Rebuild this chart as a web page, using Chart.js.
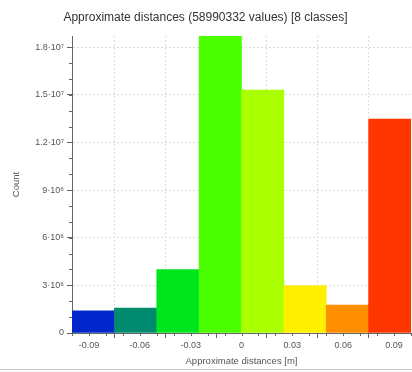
<!DOCTYPE html>
<html lang="en">
<head>
    <meta charset="UTF-8" />
    <title>Approximate distances histogram</title>
    <script src="https://cdn.jsdelivr.net/npm/chart.js"></script>
    <style>
        html, body {
            margin: 0;
            padding: 0;
            background: #fff;
        }
        .wrap {
            position: relative;
            width: 412px;
            height: 372px;
        }
        .bottom-rule {
            position: absolute;
            left: 0;
            top: 369px;
            width: 412px;
            height: 1px;
            background: #c8c8c8;
        }
    </style>
</head>
<body>
    <div class="wrap">
        <canvas id="histChart" width="412" height="372"></canvas>
        <div class="bottom-rule"></div>
    </div>

    <script>
        // Class centres (m) and counts
        const binCenters = [-0.0875, -0.0625, -0.0375, -0.0125, 0.0125, 0.0375, 0.0625, 0.0875];
        const counts = [1.40e6, 1.57e6, 4.0e6, 18.7e6, 15.3e6, 2.98e6, 1.76e6, 13.47e6];
        const barColors = ['#0026cc', '#008a6e', '#00e61e', '#4cff00', '#aaff00', '#fff000', '#ff8f00', '#ff3600'];

        // Axis ticks
        const xTicks = [-0.09, -0.06, -0.03, 0, 0.03, 0.06, 0.09];
        const xTickLabels = ['-0.09', '-0.06', '-0.03', '0', '0.03', '0.06', '0.09'];
        const yTicks = [0, 3e6, 6e6, 9e6, 12e6, 15e6, 18e6];
        const yTickLabels = ['0', '3·10⁶', '6·10⁶', '9·10⁶', '1.2·10⁷', '1.5·10⁷', '1.8·10⁷'];

        const xMin = -0.1, xMax = 0.1, yMax = 18.7e6;
        const tickFont = { family: 'Liberation Sans', size: 9 };

        // small minor tick marks along both axes
        const minorTicks = {
            id: 'minorTicks',
            afterDraw(chart) {
                const ctx = chart.ctx;
                const xs = chart.scales.x, ys = chart.scales.y;
                ctx.save();
                ctx.strokeStyle = '#666';
                ctx.lineWidth = 1;
                ctx.beginPath();
                for (let i = -10; i <= 10; i++) {
                    const px = Math.round(xs.getPixelForValue(i / 100)) + 0.5;
                    ctx.moveTo(px, ys.bottom);
                    ctx.lineTo(px, ys.bottom + 3);
                }
                for (let i = 1; i <= 18; i++) {
                    const py = Math.round(ys.getPixelForValue(i * 1e6)) + 0.5;
                    ctx.moveTo(xs.left - 3, py);
                    ctx.lineTo(xs.left, py);
                }
                ctx.stroke();
                ctx.restore();
            }
        };

        const ctx = document.getElementById('histChart').getContext('2d');
        new Chart(ctx, {
            type: 'bar',
            data: {
                datasets: [{
                    data: binCenters.map((c, i) => ({ x: c, y: counts[i] })),
                    backgroundColor: barColors,
                    borderWidth: 0,
                    barPercentage: 1,
                    categoryPercentage: 1
                }]
            },
            options: {
                responsive: false,
                animation: false,
                layout: { padding: { left: 0, right: 1, top: 0, bottom: 3 } },
                plugins: {
                    legend: { display: false },
                    tooltip: { enabled: false },
                    title: {
                        display: true,
                        text: 'Approximate distances (58990332 values) [8 classes]',
                        color: '#333',
                        font: { family: 'Liberation Sans', size: 12, weight: 'normal' },
                        padding: { top: 10, bottom: 11.6 }
                    }
                },
                scales: {
                    x: {
                        type: 'linear',
                        min: xMin,
                        max: xMax,
                        offset: false,
                        afterBuildTicks: axis => { axis.ticks = xTicks.map(v => ({ value: v })); },
                        afterFit: axis => { axis.height = 36; },
                        ticks: {
                            color: '#555',
                            font: tickFont,
                            padding: 2,
                            maxRotation: 0,
                            autoSkip: false,
                            callback: v => xTickLabels[xTicks.indexOf(v)]
                        },
                        grid: {
                            color: '#dcdcdc',
                            tickColor: '#666',
                            tickLength: 5,
                            tickBorderDash: []
                        },
                        border: { color: '#666', width: 1, dash: [2, 2] },
                        title: {
                            display: true,
                            text: 'Approximate distances [m]',
                            color: '#555',
                            font: { family: 'Liberation Sans', size: 9.5 },
                            padding: { top: 2, bottom: 2 }
                        }
                    },
                    y: {
                        min: 0,
                        max: yMax,
                        afterBuildTicks: axis => { axis.ticks = yTicks.map(v => ({ value: v })); },
                        afterFit: axis => { axis.width = 72; },
                        ticks: {
                            color: '#555',
                            font: tickFont,
                            padding: 3,
                            autoSkip: false,
                            callback: v => yTickLabels[yTicks.indexOf(v)]
                        },
                        grid: {
                            color: '#dcdcdc',
                            tickColor: '#666',
                            tickLength: 5,
                            tickBorderDash: []
                        },
                        border: { color: '#666', width: 1, dash: [2, 2] },
                        title: {
                            display: true,
                            text: 'Count',
                            color: '#555',
                            font: { family: 'Liberation Sans', size: 9.5 },
                            padding: { top: 11, bottom: 0 }
                        }
                    }
                }
            },
            plugins: [minorTicks]
        });
    </script>
</body>
</html>
